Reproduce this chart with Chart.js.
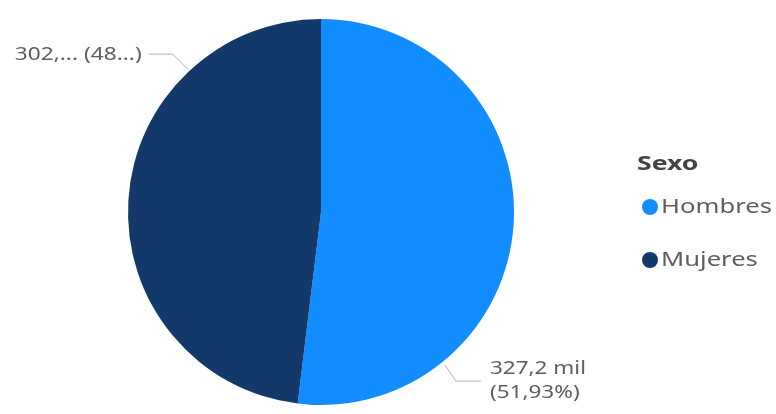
<!DOCTYPE html>
<html>
<head>
<meta charset="utf-8">
<script src="https://cdn.jsdelivr.net/npm/chart.js@4.4.0/dist/chart.umd.min.js"></script>
<style>
  html, body { margin: 0; padding: 0; background: #fff; }
  #wrap { width: 776px; height: 414px; }
</style>
</head>
<body>
<div id="wrap"><canvas id="pie" width="776" height="414"></canvas></div>
<script>
// data
var categorias = ["Hombres", "Mujeres"];
var valores = [327.2, 302.9];          // miles de personas
var etiquetas = [["327,2 mil", "(51,93%)"], ["302,... (48...)"]];
var colores = ["#118DFF", "#12396A"];
var tituloLeyenda = "Sexo";

var fuente = "'Noto Sans', 'Open Sans', sans-serif";
var gris = "#605E5C";

// texto ensanchado (la fuente original es mas ancha)
function texto(ctx, t, x, y, align, sx) {
    ctx.save();
    ctx.translate(x, y);
    ctx.scale(sx, 1);
    ctx.textAlign = align;
    ctx.fillText(t, 0, 0);
    ctx.restore();
}

// punto fuera del borde del sector, angulo en grados horario desde arriba
function puntoBorde(arc, grados, extra) {
    var r = arc.outerRadius + extra;
    var ang = grados * Math.PI / 180;
    return { x: arc.x + r * Math.sin(ang), y: arc.y - r * Math.cos(ang) };
}

// etiquetas con linea guia
var etiquetasPlugin = {
    id: "etiquetas",
    afterDatasetsDraw: function (chart) {
        var ctx = chart.ctx;
        var meta = chart.getDatasetMeta(0);
        ctx.save();
        ctx.font = "18px " + fuente;
        ctx.strokeStyle = "#B3B0AD";
        ctx.lineWidth = 1;
        ctx.fillStyle = gris;
        ctx.textBaseline = "middle";

        // Hombres: abajo a la derecha
        var p = puntoBorde(meta.data[0], 141, 4);
        ctx.beginPath();
        ctx.moveTo(p.x, p.y);
        ctx.lineTo(p.x + 11, p.y + 16);
        ctx.lineTo(p.x + 36, p.y + 16);
        ctx.stroke();
        texto(ctx, etiquetas[0][0], p.x + 45, p.y + 4, "left", 1.25);
        texto(ctx, etiquetas[0][1], p.x + 45, p.y + 28, "left", 1.25);

        // Mujeres: arriba a la izquierda
        var q = puntoBorde(meta.data[1], 317, 1);
        ctx.beginPath();
        ctx.moveTo(q.x, q.y);
        ctx.lineTo(q.x - 16, q.y - 16);
        ctx.lineTo(q.x - 40, q.y - 16);
        ctx.stroke();
        texto(ctx, etiquetas[1][0], q.x - 47, q.y - 15, "right", 1.26);
        ctx.restore();
    }
};

// leyenda a la derecha
var leyendaPlugin = {
    id: "leyenda",
    afterDraw: function (chart) {
        var ctx = chart.ctx;
        ctx.save();
        ctx.textBaseline = "middle";
        ctx.font = "bold 20px " + fuente;
        ctx.fillStyle = "#45423F";
        texto(ctx, tituloLeyenda, 637, 164, "left", 1.33);
        ctx.font = "20px " + fuente;
        for (var i = 0; i < categorias.length; i++) {
            var y = 207 + i * 53;
            ctx.fillStyle = colores[i];
            ctx.beginPath();
            ctx.arc(650, y, 8, 0, Math.PI * 2);
            ctx.fill();
            ctx.fillStyle = gris;
            texto(ctx, categorias[i], 661, y, "left", 1.28);
        }
        ctx.restore();
    }
};

new Chart(document.getElementById("pie"), {
    type: "pie",
    data: {
        labels: categorias,
        datasets: [{
            data: valores,
            backgroundColor: colores,
            borderWidth: 0
        }]
    },
    options: {
        responsive: false,
        animation: false,
        layout: { padding: { top: 16, bottom: 6, left: 128, right: 262 } },
        plugins: {
            legend: { display: false },
            tooltip: { enabled: false }
        }
    },
    plugins: [etiquetasPlugin, leyendaPlugin]
});
</script>
</body>
</html>
